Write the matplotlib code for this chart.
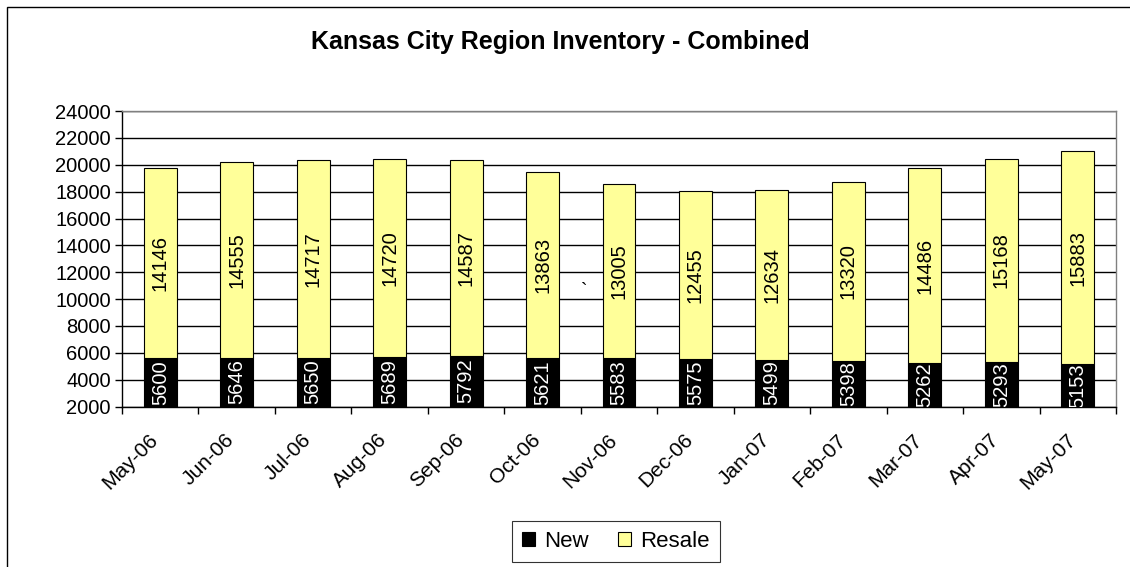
import numpy as np
import matplotlib
matplotlib.use("Agg")
import matplotlib.pyplot as plt
import matplotlib.transforms as mtransforms
from matplotlib.patches import Rectangle

months = ['May-06', 'Jun-06', 'Jul-06', 'Aug-06', 'Sep-06', 'Oct-06', 'Nov-06',
          'Dec-06', 'Jan-07', 'Feb-07', 'Mar-07', 'Apr-07', 'May-07']
new = [5600, 5646, 5650, 5689, 5792, 5621, 5583, 5575, 5499, 5398, 5262, 5293, 5153]
resale = [14146, 14555, 14717, 14720, 14587, 13863, 13005, 12455, 12634, 13320,
          14486, 15168, 15883]

plt.rcParams['font.family'] = ['Liberation Sans', 'DejaVu Sans']

fig = plt.figure(figsize=(11.3, 5.67), dpi=100)
ax = fig.add_axes([0.108, 0.283, 0.8796, 0.521])

x = np.arange(len(months))
w = 0.43
ax.bar(x, new, w, color='black', edgecolor='black', linewidth=0.8, label='New', zorder=3)
ax.bar(x, resale, w, bottom=new, color='#FFFF99', edgecolor='black', linewidth=0.8,
       label='Resale', zorder=3)

ymin, ymax = 2000, 24000
for i in range(len(months)):
    ax.text(x[i], (ymin + new[i]) / 2, str(new[i]), rotation=90, ha='center', va='center',
            color='white', fontsize=14.5, zorder=4, clip_on=True)
    ax.text(x[i], new[i] + resale[i] / 2, str(resale[i]), rotation=90, ha='center',
            va='center', color='black', fontsize=14.5, zorder=4)

# stray mark from the original sheet
ax.text(5.55, 10600, '`', ha='center', va='center', fontsize=14)

ax.set_xlim(-0.5, len(months) - 0.5)
ax.set_ylim(ymin, ymax)
ax.set_yticks(np.arange(2000, 24001, 2000))
ax.tick_params(axis='y', labelsize=14.5, direction='out', length=5, width=1, pad=3)
ax.yaxis.grid(True, color='black', linewidth=1, zorder=0)
ax.set_axisbelow(True)

ax.set_xticks(x)
ax.set_xticklabels(months, rotation=45, ha='right', va='top', rotation_mode='anchor',
                   fontsize=15)
ax.set_xticks(np.arange(len(months) + 1) - 0.5, minor=True)
ax.tick_params(axis='x', which='major', length=0, pad=17)
ax.tick_params(axis='x', which='minor', length=5, width=1, direction='out')
offset = mtransforms.ScaledTranslation(-12 / 100, 0, fig.dpi_scale_trans)
for lab in ax.get_xticklabels():
    lab.set_transform(lab.get_transform() + offset)

for s in ['left', 'bottom']:
    ax.spines[s].set_color('black')
    ax.spines[s].set_linewidth(1)
for s in ['top', 'right']:
    ax.spines[s].set_color('#808080')
    ax.spines[s].set_linewidth(1)

fig.text(0.496, 0.926, 'Kansas City Region Inventory - Combined', ha='center', va='center',
         fontsize=18, fontweight='bold')

leg = ax.legend(loc='center', bbox_to_anchor=(0.545, 0.045), bbox_transform=fig.transFigure,
                ncol=2, frameon=True, fancybox=False, edgecolor='black', fontsize=16,
                handlelength=0.6, handleheight=0.6, handletextpad=0.4, columnspacing=1.3,
                borderpad=0.45)
leg.get_frame().set_linewidth(0.8)

fig.patches.append(Rectangle((7 / 1130, -0.1), 1.2, 1.1 - 7 / 567,
                             transform=fig.transFigure, fill=False, edgecolor='black',
                             linewidth=1))

fig.savefig('out.png', dpi=100)
